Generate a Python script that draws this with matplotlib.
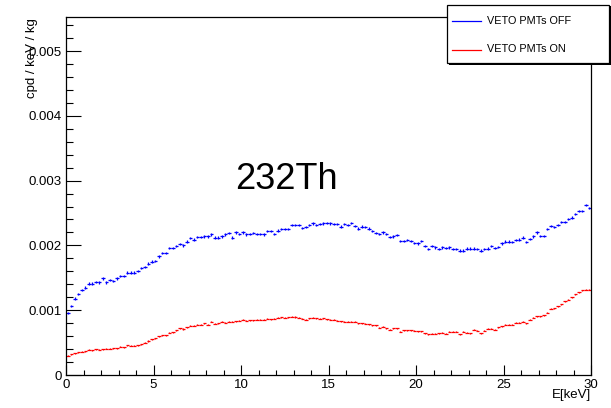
import numpy as np
import matplotlib
matplotlib.use("Agg")
import matplotlib.pyplot as plt
from matplotlib.ticker import MultipleLocator, FuncFormatter
from matplotlib.patches import Rectangle
from matplotlib.lines import Line2D

plt.rcParams['font.family'] = ['Liberation Sans', 'DejaVu Sans']

# Energy binning: 150 bins of 0.2 keV from 0 to 30 keV
bin_width = 0.2
energy = np.arange(150) * bin_width + bin_width / 2

# Rates in units of 1e-3 cpd/keV/kg
veto_off = [
    0.96, 1.07, 1.18, 1.245, 1.31, 1.35, 1.41, 1.41, 1.44, 1.43,
    1.49, 1.43, 1.47, 1.45, 1.49, 1.53, 1.53, 1.58, 1.58, 1.58,
    1.60, 1.65, 1.67, 1.72, 1.75, 1.76, 1.83, 1.88, 1.88, 1.96,
    1.96, 1.99, 2.02, 2.00, 2.06, 2.11, 2.09, 2.13, 2.13, 2.14,
    2.14, 2.17, 2.12, 2.12, 2.14, 2.17, 2.19, 2.12, 2.20, 2.18,
    2.20, 2.17, 2.18, 2.19, 2.18, 2.18, 2.17, 2.22, 2.22, 2.18,
    2.23, 2.25, 2.25, 2.25, 2.32, 2.32, 2.32, 2.27, 2.28, 2.32,
    2.34, 2.32, 2.33, 2.34, 2.35, 2.34, 2.33, 2.33, 2.29, 2.33,
    2.32, 2.35, 2.30, 2.26, 2.29, 2.28, 2.26, 2.22, 2.19, 2.18,
    2.20, 2.18, 2.13, 2.14, 2.16, 2.07, 2.07, 2.08, 2.07, 2.04,
    2.03, 2.07, 1.99, 1.94, 1.99, 1.97, 1.94, 1.97, 1.96, 1.97,
    1.94, 1.94, 1.92, 1.92, 1.95, 1.95, 1.95, 1.94, 1.92, 1.94,
    1.95, 1.99, 1.96, 1.98, 2.03, 2.06, 2.06, 2.05, 2.08, 2.09,
    2.12, 2.05, 2.10, 2.14, 2.20, 2.15, 2.15, 2.25, 2.30, 2.28,
    2.31, 2.36, 2.36, 2.41, 2.43, 2.48, 2.53, 2.53, 2.62, 2.58,
]

veto_on = [
    0.30, 0.32, 0.335, 0.35, 0.36, 0.37, 0.39, 0.385, 0.395, 0.39,
    0.40, 0.405, 0.405, 0.41, 0.415, 0.437, 0.43, 0.457, 0.45, 0.45,
    0.46, 0.478, 0.50, 0.525, 0.55, 0.566, 0.60, 0.61, 0.61, 0.65,
    0.66, 0.69, 0.72, 0.71, 0.74, 0.76, 0.76, 0.775, 0.775, 0.80,
    0.775, 0.82, 0.79, 0.80, 0.82, 0.81, 0.82, 0.825, 0.83, 0.835,
    0.855, 0.84, 0.845, 0.845, 0.85, 0.855, 0.855, 0.87, 0.86, 0.87,
    0.88, 0.89, 0.88, 0.89, 0.90, 0.895, 0.88, 0.87, 0.855, 0.875,
    0.885, 0.875, 0.87, 0.875, 0.86, 0.85, 0.855, 0.84, 0.83, 0.825,
    0.82, 0.82, 0.82, 0.80, 0.80, 0.79, 0.78, 0.77, 0.765, 0.73,
    0.745, 0.725, 0.70, 0.72, 0.72, 0.67, 0.69, 0.69, 0.69, 0.68,
    0.675, 0.675, 0.645, 0.63, 0.635, 0.635, 0.645, 0.65, 0.635, 0.665,
    0.665, 0.665, 0.63, 0.665, 0.655, 0.645, 0.695, 0.68, 0.645, 0.68,
    0.715, 0.715, 0.70, 0.735, 0.75, 0.775, 0.775, 0.775, 0.805, 0.81,
    0.82, 0.80, 0.855, 0.885, 0.91, 0.91, 0.92, 0.96, 1.02, 1.03,
    1.06, 1.09, 1.14, 1.16, 1.20, 1.245, 1.28, 1.31, 1.315, 1.315,
]

# Statistical uncertainties (1e-3 cpd/keV/kg)
err_off = 0.018
err_on = 0.008

scale = 1e-3
y_off = np.array(veto_off) * scale
y_on = np.array(veto_on) * scale

W, H = 611, 408
fig = plt.figure(figsize=(W / 100, H / 100), dpi=100)
ax = fig.add_axes([66 / W, 1 - 375 / H, (591 - 66) / W, (375 - 17) / H])

ax.errorbar(energy, y_off, xerr=bin_width / 2, yerr=err_off * scale,
            fmt='none', ecolor='#0000ff', elinewidth=0.9, capsize=0)
ax.errorbar(energy, y_on, xerr=bin_width / 2, yerr=err_on * scale,
            fmt='none', ecolor='#ff0000', elinewidth=0.9, capsize=0)

ax.set_xlim(0, 30)
ax.set_ylim(0, 0.005525)

ax.xaxis.set_major_locator(MultipleLocator(5))
ax.xaxis.set_minor_locator(MultipleLocator(1))
ax.yaxis.set_major_locator(MultipleLocator(0.001))
ax.yaxis.set_minor_locator(MultipleLocator(0.0002))
ax.yaxis.set_major_formatter(FuncFormatter(lambda v, p: '0' if abs(v) < 1e-12 else f'{v:.3f}'))
ax.xaxis.set_major_formatter(FuncFormatter(lambda v, p: f'{v:g}'))

ax.tick_params(axis='both', which='both', direction='in', colors='black',
               width=0.8, labelsize=9.5, top=False, right=False)
ax.tick_params(axis='y', which='major', length=11, pad=3)
ax.tick_params(axis='y', which='minor', length=5.3)
ax.tick_params(axis='x', which='major', length=7.4, pad=3)
ax.tick_params(axis='x', which='minor', length=3.7)
for s in ax.spines.values():
    s.set_linewidth(0.9)
    s.set_color('black')

# Axis titles placed at the axis ends
fig.text(31.5 / W, 1 - 18 / H, 'cpd / keV / kg', rotation=90,
         ha='center', va='top', fontsize=9.5)
fig.text(591 / W, 1 - 389 / H, 'E[keV]', ha='right', va='top', fontsize=9.5)

ax.text(9.65, 0.00287, '232Th', fontsize=26, ha='left', va='baseline')

# Legend box with a small drop shadow
lx0, lx1, ly0, ly1 = 447, 609, 5, 63
fig.patches.append(Rectangle((lx0 / W + 1.5 / W, 1 - ly1 / H - 1.5 / H),
                             (lx1 - lx0) / W, (ly1 - ly0) / H,
                             transform=fig.transFigure, facecolor='black',
                             edgecolor='none', zorder=10))
fig.patches.append(Rectangle((lx0 / W, 1 - ly1 / H), (lx1 - lx0) / W, (ly1 - ly0) / H,
                             transform=fig.transFigure, facecolor='white',
                             edgecolor='black', linewidth=0.9, zorder=11))
for yy, col, lab in [(20.5, '#0000ff', 'VETO PMTs OFF'), (49.5, '#ff0000', 'VETO PMTs ON')]:
    fig.lines.append(Line2D([452 / W, 481 / W], [1 - yy / H, 1 - yy / H],
                            transform=fig.transFigure, color=col, linewidth=0.9, zorder=12))
    fig.text(487 / W, 1 - yy / H, lab, ha='left', va='center', fontsize=7.8, zorder=12)

fig.savefig('out.png', dpi=100, facecolor='white')
